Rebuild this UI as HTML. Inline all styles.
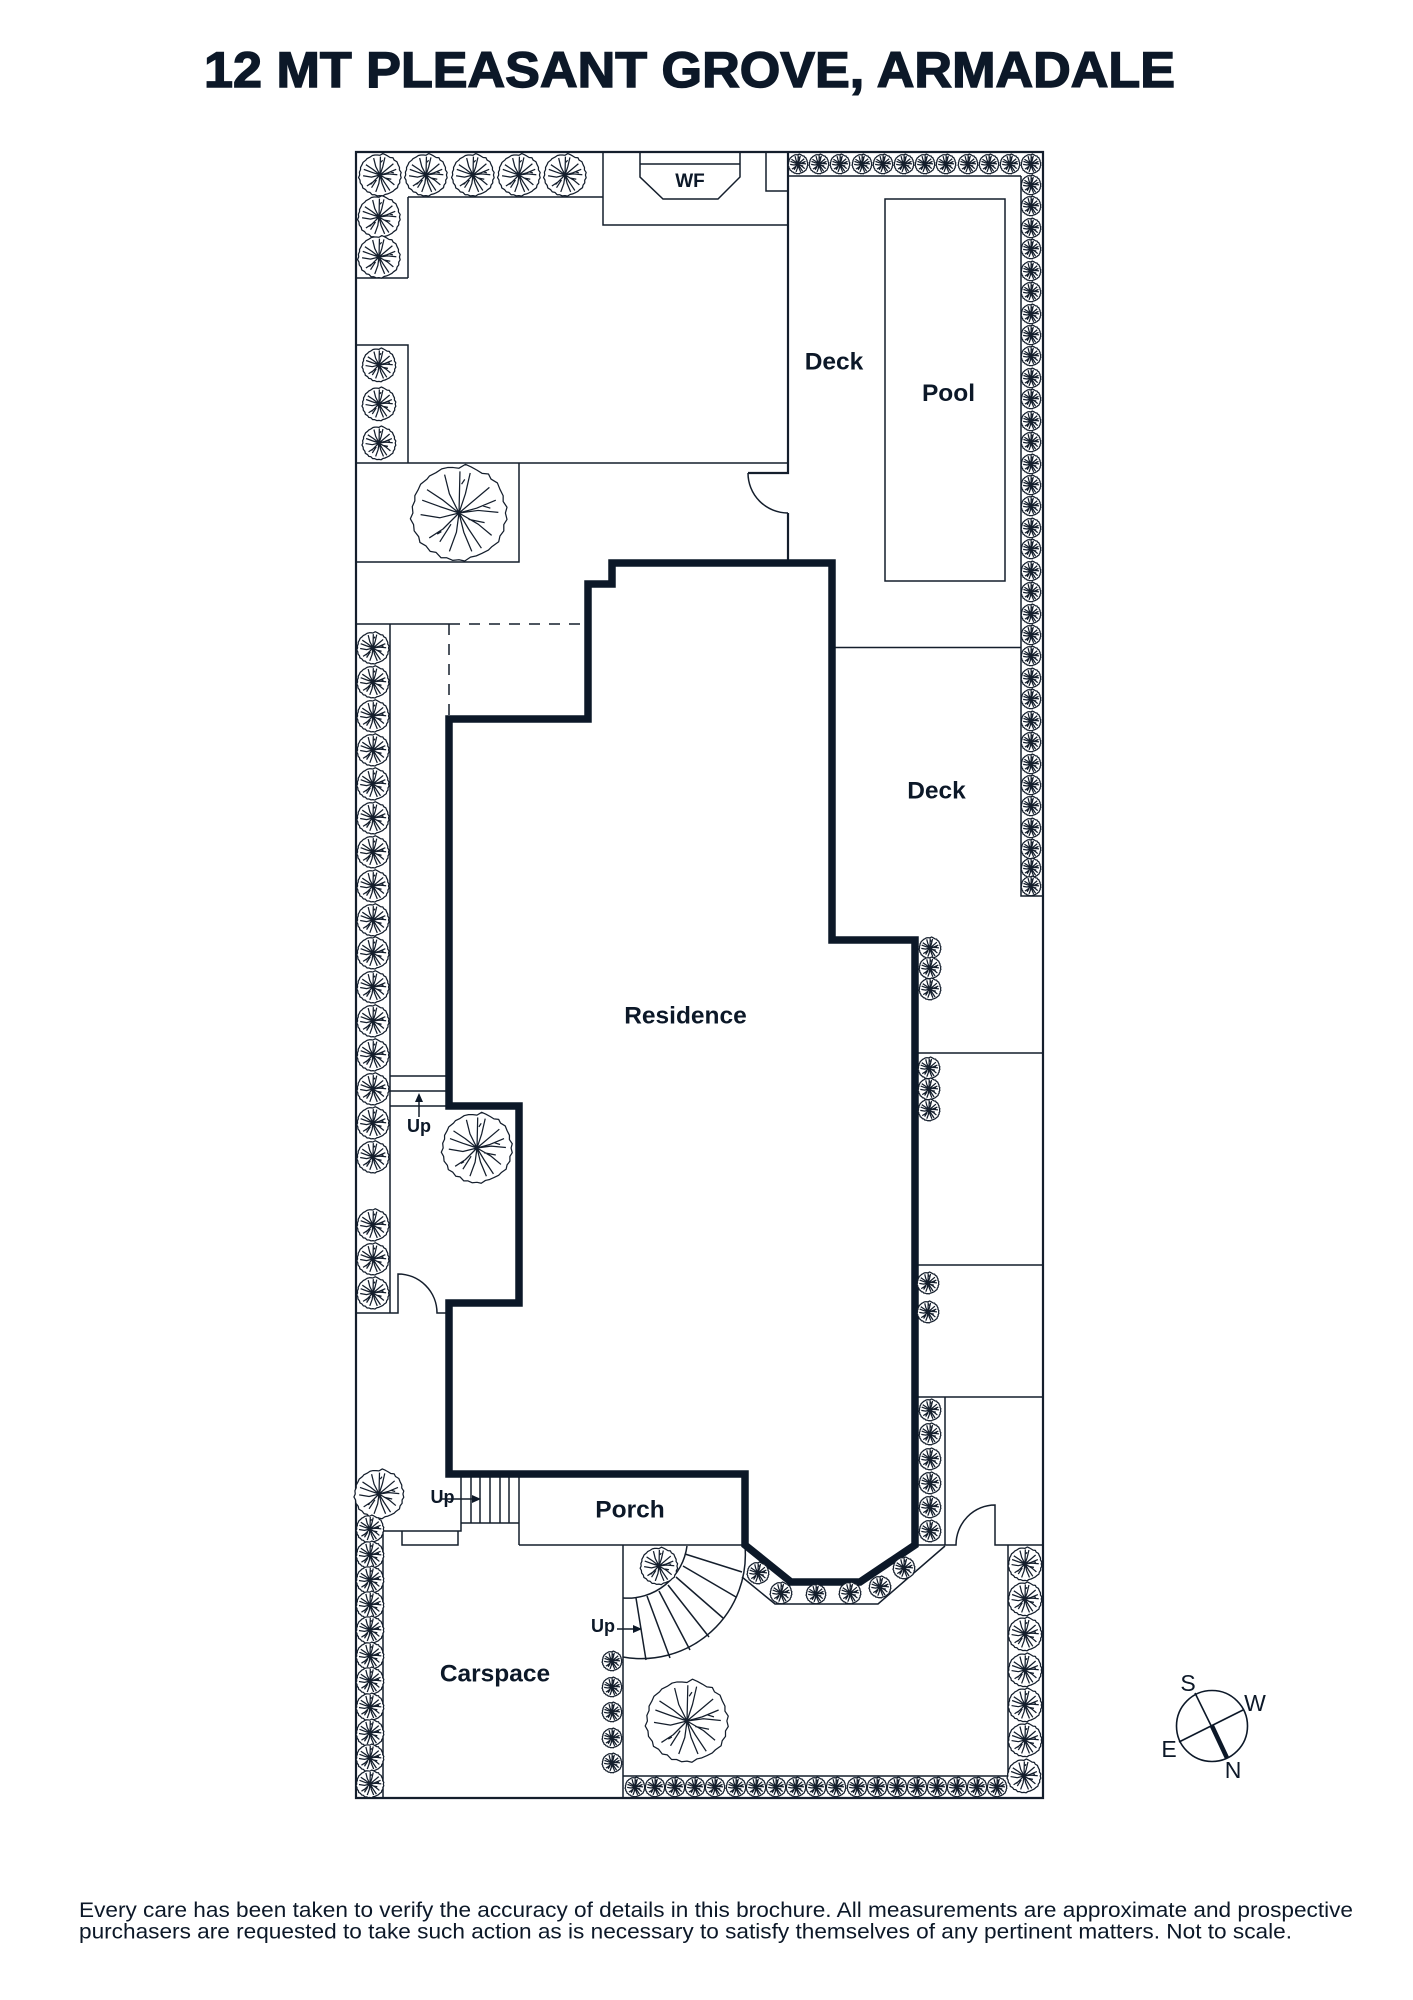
<!DOCTYPE html>
<html><head><meta charset="utf-8"><style>
html,body{margin:0;padding:0;background:#fff}
svg{display:block}
text{font-family:"Liberation Sans",sans-serif;fill:#0c1828}
.l{font-weight:700;font-size:24.5px;text-anchor:middle}
.u{font-weight:700;font-size:18px;text-anchor:middle}
.c{font-size:23px;text-anchor:middle}
.f{font-size:21px}
</style></head><body>
<svg xmlns="http://www.w3.org/2000/svg" width="1413" height="2000" viewBox="0 0 1413 2000">
<defs>
<g id="t" fill="#fff" stroke="#141e2c" stroke-width="1.25" stroke-linejoin="round">
<polygon vector-effect="non-scaling-stroke" points="145,0 150,20 140,36 140,56 128,72 124,90 103,105 92,116 72,126 54,134 36,138 18,150 0,146 -20,148 -38,140 -56,140 -72,123 -90,120 -103,103 -122,92 -126,74 -140,56 -142,36 -152,18 -144,0 -146,-20 -138,-38 -138,-54 -128,-72 -120,-90 -100,-106 -92,-116 -72,-126 -54,-138 -36,-142 -18,-142 0,-140 20,-152 38,-144 56,-134 72,-124 92,-122 100,-106 120,-94 128,-74 138,-54 138,-36 150,-18"/>
<path fill="none" vector-effect="non-scaling-stroke" d="M0 0L3 -130M0 0L20 -60L35 -125M8 -90L18 -105M0 0L-30 -60L-45 -120M0 0L95 -80M0 0L55 -15L115 -40M75 -22L98 -15M0 0L60 -8L123 -2M0 0L60 35L102 70M30 20L80 30M0 0L30 50L70 110M0 0L15 60L40 120M0 0L-8 60L-30 120M0 0L-50 50L-93 78M-55 58L-68 66M-25 35L-60 90M0 0L-60 15L-120 5M0 0L-60 -20L-115 -40M0 0L-50 -40L-100 -73"/>
</g>
<g id="a"><use href="#t" transform="scale(.0655)"/></g>
<g id="b"><use href="#t" transform="scale(.0725)"/></g>
<g id="c"><use href="#t" transform="scale(.092)"/></g>
<g id="d"><use href="#t" transform="scale(.107)"/></g>
<g id="e"><use href="#t" transform="scale(.112)"/></g>
<g id="h"><use href="#t" transform="scale(.141)"/></g>
</defs>

<text x="689.5" y="87" font-size="50" font-weight="700" text-anchor="middle" textLength="971" lengthAdjust="spacingAndGlyphs" stroke="#0c1828" stroke-width="1.4">12 MT PLEASANT GROVE, ARMADALE</text>

<g fill="none" stroke="#141e2c" stroke-width="1.5">
<path d="M408 197H603M408 197V278M356 278H408M603 152V225H788M640 152V177L663 199H718L740 177V152M640 164H740M766 152V191H788"/>
<path d="M356 345H408V463M356 463H788M519 463V562H356"/>
<path d="M748 473A40 40 0 0 0 788 513"/>
<path d="M788 176H1021M1021 176V896H1043"/>
<rect x="885" y="199" width="120" height="382"/>
<path d="M832 647.5H1021"/>
<path d="M915 1053H1043M915 1265H1043M915 1397H1043M945 1397V1545"/>
<path d="M915 1545H956A39 40 0 0 1 995 1505V1545H1043"/>
<path d="M1008 1545V1776M623 1776H1008"/>
<path d="M742 1577L775 1604H878L945 1546"/>
<path d="M356 624H449"/>
<path d="M449 624H588M449 624V716" stroke-dasharray="11 9"/>
<path d="M390 624V1313M356 1313H398V1274A39 39 0 0 1 437 1313H449"/>
<path d="M390 1076H449M390 1091H449M390 1106H449M419 1117V1100"/>
<path d="M356 1531H461V1477M471 1477V1523M480 1477V1523M490 1477V1523M500 1477V1523M509 1477V1523M519 1477V1545M461 1523H519"/>
<path d="M402 1531V1545H458V1531M519 1545H745M383 1531V1798M623 1545V1798"/>
<path d="M442 1499H474M617 1629H636"/>
<path d="M745 1546A104 104 0 0 1 623 1657M687 1546A60 60 0 0 1 623 1598"/>
<path d="M685 1554L742 1572M683 1566L736 1597M676 1577L723 1618M668 1585L709 1637M659 1591L690 1650M647 1596L670 1658M636 1598L646 1660"/>
</g>
<path fill="#0c1828" d="M419 1093L415 1102H423ZM481 1499L472 1495V1503ZM642 1629L633 1625V1633Z"/>
<path fill="none" stroke="#141e2c" stroke-width="2.2" d="M356 152H1043V1798H356ZM788 152V473H748M788 513V560"/>
<path fill="none" stroke="#0c1828" stroke-width="7.5" stroke-miterlimit="10" d="M612 563H832V940H915V1545L860 1582H791L745 1545V1474H449V1303H519V1106H449V719H588V584H612Z"/>

<!-- top left planting -->
<use href="#h" x="380" y="175"/><use href="#h" x="426" y="175"/><use href="#h" x="473" y="175"/><use href="#h" x="519" y="175"/><use href="#h" x="565" y="175"/>
<use href="#h" x="379" y="217"/><use href="#h" x="379" y="257"/>
<use href="#e" x="379" y="365"/><use href="#e" x="379" y="404"/><use href="#e" x="379" y="443"/>
<use href="#t" transform="translate(459 513) scale(.32)"/>
<!-- top row -->
<use href="#a" x="798" y="164"/><use href="#a" x="819" y="164"/><use href="#a" x="840" y="164"/><use href="#a" x="862" y="164"/><use href="#a" x="883" y="164"/><use href="#a" x="904" y="164"/><use href="#a" x="925" y="164"/><use href="#a" x="946" y="164"/><use href="#a" x="968" y="164"/><use href="#a" x="989" y="164"/><use href="#a" x="1010" y="164"/><use href="#a" x="1031" y="164"/>
<!-- right column -->
<use href="#a" x="1031" y="185"/><use href="#a" x="1031" y="206"/><use href="#a" x="1031" y="228"/><use href="#a" x="1031" y="249"/><use href="#a" x="1031" y="271"/><use href="#a" x="1031" y="292"/><use href="#a" x="1031" y="314"/><use href="#a" x="1031" y="335"/><use href="#a" x="1031" y="356"/><use href="#a" x="1031" y="378"/><use href="#a" x="1031" y="399"/><use href="#a" x="1031" y="421"/><use href="#a" x="1031" y="442"/><use href="#a" x="1031" y="464"/><use href="#a" x="1031" y="485"/><use href="#a" x="1031" y="506"/><use href="#a" x="1031" y="528"/><use href="#a" x="1031" y="549"/><use href="#a" x="1031" y="571"/><use href="#a" x="1031" y="592"/><use href="#a" x="1031" y="614"/><use href="#a" x="1031" y="635"/><use href="#a" x="1031" y="656"/><use href="#a" x="1031" y="678"/><use href="#a" x="1031" y="699"/><use href="#a" x="1031" y="721"/><use href="#a" x="1031" y="742"/><use href="#a" x="1031" y="764"/><use href="#a" x="1031" y="785"/><use href="#a" x="1031" y="806"/><use href="#a" x="1031" y="828"/><use href="#a" x="1031" y="849"/><use href="#a" x="1031" y="868"/><use href="#a" x="1031" y="886"/>
<!-- left column -->
<use href="#d" x="373" y="648"/><use href="#d" x="373" y="682"/><use href="#d" x="373" y="716"/><use href="#d" x="373" y="750"/><use href="#d" x="373" y="784"/><use href="#d" x="373" y="818"/><use href="#d" x="373" y="852"/><use href="#d" x="373" y="886"/><use href="#d" x="373" y="920"/><use href="#d" x="373" y="953"/><use href="#d" x="373" y="987"/><use href="#d" x="373" y="1021"/><use href="#d" x="373" y="1055"/><use href="#d" x="373" y="1089"/><use href="#d" x="373" y="1123"/><use href="#d" x="373" y="1157"/>
<use href="#d" x="373" y="1225"/><use href="#d" x="373" y="1259"/><use href="#d" x="373" y="1293"/>
<use href="#t" transform="translate(477 1148) scale(.235)"/>
<!-- mid right -->
<use href="#b" x="930" y="948"/><use href="#b" x="930" y="968"/><use href="#b" x="930" y="989"/>
<use href="#b" x="929" y="1068"/><use href="#b" x="929" y="1089"/><use href="#b" x="929" y="1110"/>
<use href="#b" x="928" y="1283"/><use href="#b" x="928" y="1312"/>
<use href="#b" x="930" y="1410"/><use href="#b" x="930" y="1434"/><use href="#b" x="930" y="1459"/><use href="#b" x="930" y="1483"/><use href="#b" x="930" y="1507"/><use href="#b" x="930" y="1531"/>
<!-- bay -->
<use href="#b" x="758" y="1573"/><use href="#b" x="781" y="1593"/><use href="#a" x="816" y="1594"/><use href="#b" x="850" y="1593"/><use href="#b" x="880" y="1587"/><use href="#b" x="904" y="1568"/>
<!-- bottom right column -->
<use href="#e" x="1025" y="1564"/><use href="#e" x="1025" y="1599"/><use href="#e" x="1025" y="1634"/><use href="#e" x="1025" y="1670"/><use href="#e" x="1025" y="1705"/><use href="#e" x="1025" y="1740"/><use href="#e" x="1024" y="1776"/>
<!-- bottom row -->
<use href="#a" x="635" y="1787"/><use href="#a" x="655" y="1787"/><use href="#a" x="675" y="1787"/><use href="#a" x="695" y="1787"/><use href="#a" x="715" y="1787"/><use href="#a" x="736" y="1787"/><use href="#a" x="756" y="1787"/><use href="#a" x="776" y="1787"/><use href="#a" x="796" y="1787"/><use href="#a" x="816" y="1787"/><use href="#a" x="836" y="1787"/><use href="#a" x="857" y="1787"/><use href="#a" x="877" y="1787"/><use href="#a" x="897" y="1787"/><use href="#a" x="917" y="1787"/><use href="#a" x="937" y="1787"/><use href="#a" x="957" y="1787"/><use href="#a" x="977" y="1787"/><use href="#a" x="997" y="1787"/>
<!-- carspace column -->
<use href="#t" transform="translate(379 1494) scale(.165)"/>
<use href="#c" x="370" y="1529"/><use href="#c" x="370" y="1555"/><use href="#c" x="370" y="1580"/><use href="#c" x="370" y="1605"/><use href="#c" x="370" y="1630"/><use href="#c" x="370" y="1656"/><use href="#c" x="370" y="1681"/><use href="#c" x="370" y="1707"/><use href="#c" x="370" y="1733"/><use href="#c" x="370" y="1758"/><use href="#c" x="370" y="1784"/>
<use href="#a" x="612" y="1661"/><use href="#a" x="612" y="1687"/><use href="#a" x="612" y="1712"/><use href="#a" x="612" y="1738"/><use href="#a" x="612" y="1763"/>
<use href="#t" transform="translate(659 1566) scale(.124)"/>
<use href="#t" transform="translate(687 1721) scale(.275)"/>

<!-- labels -->
<text class="l" x="690" y="187" style="font-size:19px">WF</text>
<text class="l" x="834" y="369.5">Deck</text>
<text class="l" x="948.5" y="401">Pool</text>
<text class="l" x="936.5" y="798.5">Deck</text>
<text class="l" x="685.5" y="1023.5">Residence</text>
<text class="l" x="630" y="1517.5">Porch</text>
<text class="l" x="495" y="1681.5">Carspace</text>
<text class="u" x="419" y="1132">Up</text>
<text class="u" x="442.5" y="1503">Up</text>
<text class="u" x="603" y="1632">Up</text>

<!-- compass -->
<g fill="none" stroke="#0c1828" stroke-width="1.6">
<circle cx="1212" cy="1726" r="35.5"/>
<path d="M1195 1693L1227 1758M1243 1710L1179 1742"/>
<path d="M1212 1726L1227 1758" stroke-width="4.5"/>
</g>
<text class="c" x="1188" y="1691">S</text>
<text class="c" x="1255" y="1711">W</text>
<text class="c" x="1169" y="1757">E</text>
<text class="c" x="1233" y="1778">N</text>

<!-- footer -->
<text class="f" x="79" y="1917" textLength="1274" lengthAdjust="spacingAndGlyphs">Every care has been taken to verify the accuracy of details in this brochure. All measurements are approximate and prospective</text>
<text class="f" x="79" y="1938.5" textLength="1213" lengthAdjust="spacingAndGlyphs">purchasers are requested to take such action as is necessary to satisfy themselves of any pertinent matters. Not to scale.</text>
</svg>
</body></html>
